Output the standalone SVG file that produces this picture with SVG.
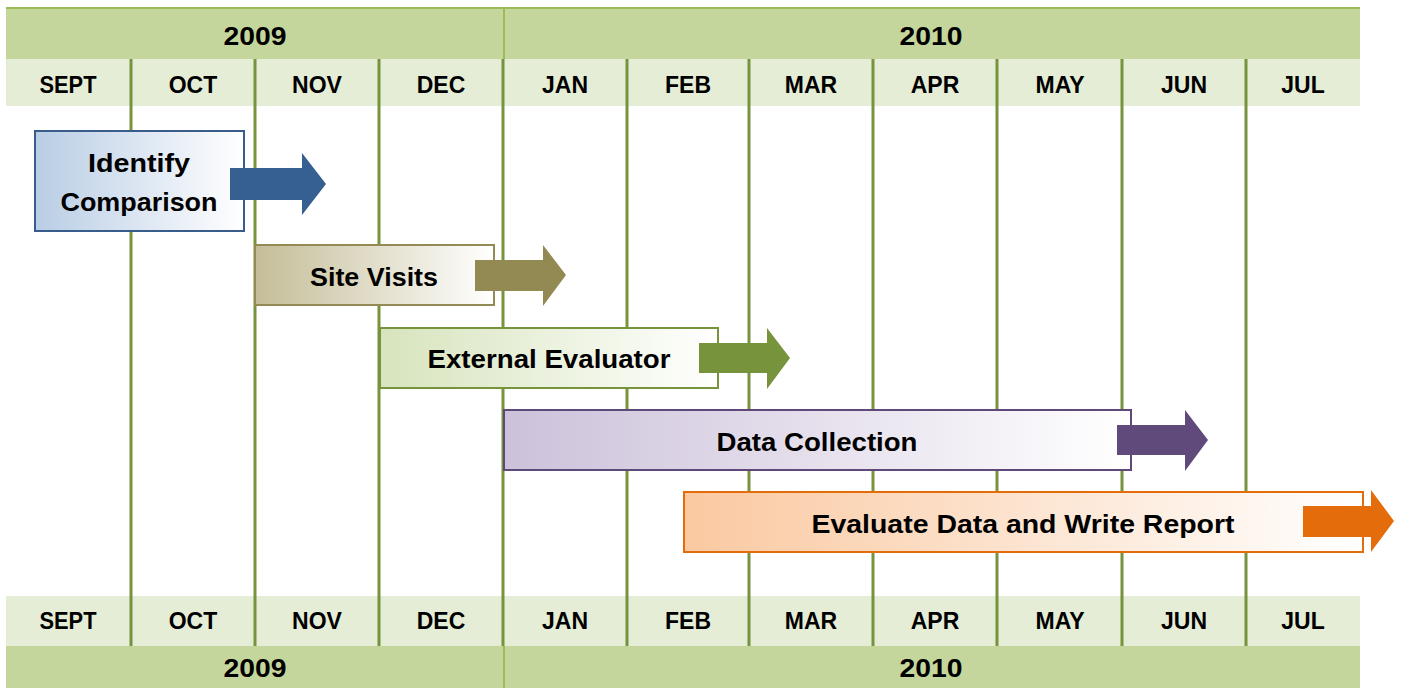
<svg xmlns="http://www.w3.org/2000/svg" width="1401" height="688" viewBox="0 0 1401 688">
<style>
.yr{fill:#C4D69C}
.mo{fill:#E5EDD6}
.grid{stroke:#77933C;stroke-width:3}
.ydiv{stroke:#9BBB59;stroke-width:2}
.hd{font-family:"Liberation Sans",Arial,sans-serif;font-weight:bold;font-size:23px;fill:#000;text-anchor:middle}
.yt{font-family:"Liberation Sans",Arial,sans-serif;font-weight:bold;font-size:26px;fill:#000;text-anchor:middle}
.tk{font-family:"Liberation Sans",Arial,sans-serif;font-weight:bold;font-size:25px;fill:#000;text-anchor:middle}
</style>
<defs>
<linearGradient id="gBlue" x1="0" y1="0" x2="1" y2="0"><stop offset="0" stop-color="#B9CDE5"/><stop offset="1" stop-color="#FFFFFF"/></linearGradient>
<linearGradient id="gTan" x1="0" y1="0" x2="1" y2="0"><stop offset="0" stop-color="#C4BD97"/><stop offset="1" stop-color="#FFFFFF"/></linearGradient>
<linearGradient id="gGreen" x1="0" y1="0" x2="1" y2="0"><stop offset="0" stop-color="#D7E4BD"/><stop offset="1" stop-color="#FFFFFF"/></linearGradient>
<linearGradient id="gPurple" x1="0" y1="0" x2="1" y2="0"><stop offset="0" stop-color="#CCC1DA"/><stop offset="1" stop-color="#FFFFFF"/></linearGradient>
<linearGradient id="gOrange" x1="0" y1="0" x2="1" y2="0"><stop offset="0" stop-color="#FAC9A1"/><stop offset="1" stop-color="#FFFFFF"/></linearGradient>
</defs>
<rect width="1401" height="688" fill="#FFFFFF"/>

<g id="header-top">
<rect class="yr" x="6" y="7" width="1354" height="52"/>
<line x1="6" y1="8" x2="1360" y2="8" stroke="#9BBB59" stroke-width="2"/>
<rect class="mo" x="6" y="59" width="1354" height="47"/>
<line class="ydiv" x1="504" y1="8" x2="504" y2="59"/>
<text class="yt" x="255" y="45" textLength="63" lengthAdjust="spacingAndGlyphs">2009</text>
<text class="yt" x="931" y="45" textLength="63" lengthAdjust="spacingAndGlyphs">2010</text>
<text class="hd" x="68" y="93" textLength="57" lengthAdjust="spacingAndGlyphs">SEPT</text>
<text class="hd" x="193" y="93">OCT</text>
<text class="hd" x="317" y="93">NOV</text>
<text class="hd" x="441" y="93">DEC</text>
<text class="hd" x="565" y="93">JAN</text>
<text class="hd" x="688" y="93">FEB</text>
<text class="hd" x="811" y="93">MAR</text>
<text class="hd" x="935" y="93">APR</text>
<text class="hd" x="1060" y="93">MAY</text>
<text class="hd" x="1184" y="93">JUN</text>
<text class="hd" x="1303" y="93">JUL</text>
</g>

<g id="header-bottom">
<rect class="mo" x="6" y="596" width="1354" height="50"/>
<rect class="yr" x="6" y="646" width="1354" height="42"/>
<line class="ydiv" x1="504" y1="646" x2="504" y2="688"/>
<text class="hd" x="68" y="629" textLength="57" lengthAdjust="spacingAndGlyphs">SEPT</text>
<text class="hd" x="193" y="629">OCT</text>
<text class="hd" x="317" y="629">NOV</text>
<text class="hd" x="441" y="629">DEC</text>
<text class="hd" x="565" y="629">JAN</text>
<text class="hd" x="688" y="629">FEB</text>
<text class="hd" x="811" y="629">MAR</text>
<text class="hd" x="935" y="629">APR</text>
<text class="hd" x="1060" y="629">MAY</text>
<text class="hd" x="1184" y="629">JUN</text>
<text class="hd" x="1303" y="629">JUL</text>
<text class="yt" x="255" y="677" textLength="63" lengthAdjust="spacingAndGlyphs">2009</text>
<text class="yt" x="931" y="677" textLength="63" lengthAdjust="spacingAndGlyphs">2010</text>
</g>

<g id="grid">
<line class="grid" x1="131" y1="59" x2="131" y2="646"/>
<line class="grid" x1="255" y1="59" x2="255" y2="646"/>
<line class="grid" x1="379" y1="59" x2="379" y2="646"/>
<line class="grid" x1="503" y1="59" x2="503" y2="646"/>
<line class="grid" x1="627" y1="59" x2="627" y2="646"/>
<line class="grid" x1="749" y1="59" x2="749" y2="646"/>
<line class="grid" x1="873" y1="59" x2="873" y2="646"/>
<line class="grid" x1="997" y1="59" x2="997" y2="646"/>
<line class="grid" x1="1122" y1="59" x2="1122" y2="646"/>
<line class="grid" x1="1246" y1="59" x2="1246" y2="646"/>
</g>

<g id="task-identify">
<rect x="35" y="131" width="209" height="100" fill="url(#gBlue)" stroke="#385D8A" stroke-width="2"/>
<text class="tk" x="139" y="172" textLength="102" lengthAdjust="spacingAndGlyphs">Identify</text>
<text class="tk" x="139" y="211" textLength="157" lengthAdjust="spacingAndGlyphs">Comparison</text>
</g>

<g id="task-site">
<rect x="255" y="245" width="239" height="60" fill="url(#gTan)" stroke="#948A54" stroke-width="2"/>
<text class="tk" x="374" y="286" textLength="128" lengthAdjust="spacingAndGlyphs">Site Visits</text>
</g>

<g id="task-external">
<rect x="380" y="328" width="338" height="60" fill="url(#gGreen)" stroke="#77933C" stroke-width="2"/>
<text class="tk" x="549" y="368" textLength="243" lengthAdjust="spacingAndGlyphs">External Evaluator</text>
</g>

<g id="task-data">
<rect x="504" y="410" width="627" height="60" fill="url(#gPurple)" stroke="#5F497A" stroke-width="2"/>
<text class="tk" x="817" y="451" textLength="201" lengthAdjust="spacingAndGlyphs">Data Collection</text>
</g>

<g id="task-evaluate">
<rect x="684" y="492" width="679" height="60" fill="url(#gOrange)" stroke="#E46C0A" stroke-width="2"/>
<text class="tk" x="1023" y="533" textLength="423" lengthAdjust="spacingAndGlyphs">Evaluate Data and Write Report</text>
</g>

<g id="connectors">
<polygon points="230,168 302,168 302,153 326,184 302,215 302,200 230,200" fill="#366092"/>
<polygon points="475,260 543,260 543,245 566,275 543,306 543,291 475,291" fill="#938953"/>
<polygon points="699,343 767,343 767,328 790,358 767,389 767,373 699,373" fill="#77933C"/>
<polygon points="1117,425 1185,425 1185,410 1208,440 1185,471 1185,455 1117,455" fill="#604A7B"/>
<polygon points="1303,506 1371,506 1371,490 1394,521 1371,552 1371,537 1303,537" fill="#E46C0A"/>
</g>
</svg>
